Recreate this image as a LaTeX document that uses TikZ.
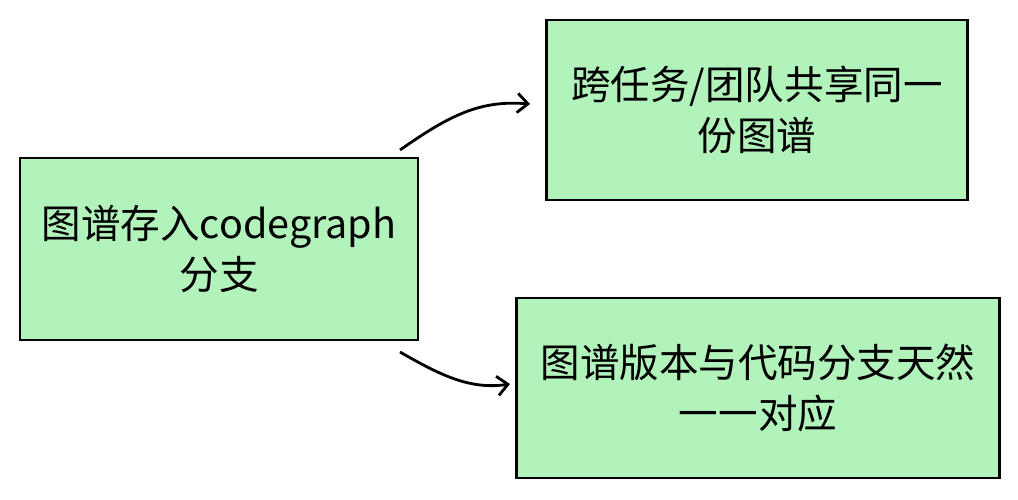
\documentclass[tikz,border=0pt]{standalone}
\usepackage{fontspec}
\newfontfamily\cjk{Noto Sans CJK SC}
\definecolor{boxgreen}{HTML}{B2F2BB}
\tikzset{
  box/.style={draw=black, line width=1.6pt, fill=boxgreen, align=center,
    font=\cjk\fontsize{22.5}{29}\selectfont},
  link/.style={line width=1.6pt, -{Straight Barb[length=6pt,width=11pt]}}
}
\usetikzlibrary{arrows.meta}
\begin{document}
\begin{tikzpicture}[x=0.02cm, y=-0.02cm]
\useasboundingbox (0,0) rectangle (1018,500);

\node [box, minimum width=398*0.02cm, minimum height=182*0.02cm] (store) at (219,249) {图谱存入codegraph\\分支};
\node [box, minimum width=421*0.02cm, minimum height=180*0.02cm] (share) at (757,110) {跨任务/团队共享同一\\份图谱};
\node [box, minimum width=483*0.02cm, minimum height=180*0.02cm] (version) at (758,388) {图谱版本与代码分支天然\\一一对应};

\coordinate (a1) at (400,150);
\coordinate (b1) at (400,352);
\draw [link] (a1) .. controls (450,115) and (480,100) .. (530,104);
\draw [link] (b1) .. controls (440,375) and (470,390) .. (510,384);

\end{tikzpicture}
\end{document}
